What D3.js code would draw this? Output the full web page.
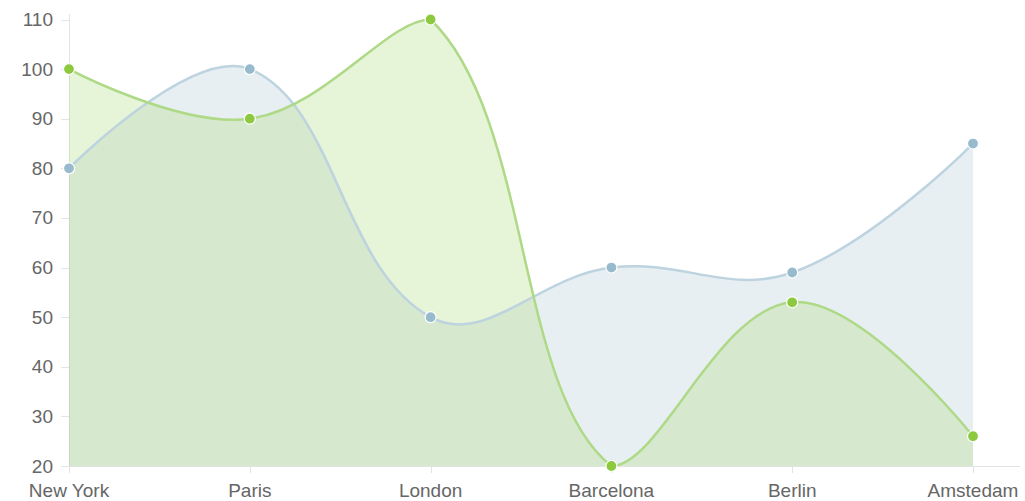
<!DOCTYPE html>
<html>
<head>
<meta charset="utf-8">
<script src="https://cdn.jsdelivr.net/npm/d3@7"></script>
<style>
  body { margin: 0; background: #fff; }
  svg { display: block; }
  text { font-family: "Liberation Sans", Arial, sans-serif; font-size: 19px; fill: #666; }
</style>
</head>
<body>
<div id="chart"></div>
<script>
'use strict';

var cities = ['New York', 'Paris', 'London', 'Barcelona', 'Berlin', 'Amstedam'];
var blueValues = [80, 100, 50, 60, 59, 85];
var greenValues = [100, 90, 110, 20, 53, 26];
var yTicks = [20, 30, 40, 50, 60, 70, 80, 90, 100, 110];

var width = 1025;
var height = 501;
var tension = 0.4;

var svg = d3.select('#chart').append('svg')
    .attr('width', width)
    .attr('height', height);

var x = d3.scalePoint()
    .domain(cities)
    .range([69, 973]);

var y = d3.scaleLinear()
    .domain([20, 110])
    .range([466, 19.5]);

// axes lines
svg.append('line')
    .attr('x1', 69.5).attr('x2', 69.5)
    .attr('y1', 14).attr('y2', 466)
    .attr('stroke', '#e3e3e3').attr('stroke-width', 1);

svg.append('line')
    .attr('x1', 61).attr('x2', 1020)
    .attr('y1', 466.5).attr('y2', 466.5)
    .attr('stroke', '#e3e3e3').attr('stroke-width', 1);

svg.selectAll('.ytick')
    .data(yTicks)
    .enter()
    .append('line')
        .attr('x1', 61).attr('x2', 69)
        .attr('y1', function(d) { return Math.round(y(d)) + 0.5; })
        .attr('y2', function(d) { return Math.round(y(d)) + 0.5; })
        .attr('stroke', '#e3e3e3');

svg.selectAll('.ylabel')
    .data(yTicks)
    .enter()
    .append('text')
        .attr('x', 53)
        .attr('y', function(d) { return y(d); })
        .attr('text-anchor', 'end')
        .attr('dominant-baseline', 'central')
        .text(function(d) { return d; });

svg.selectAll('.xtick')
    .data(cities)
    .enter()
    .append('line')
        .attr('x1', function(d) { return Math.round(x(d)) + 0.5; })
        .attr('x2', function(d) { return Math.round(x(d)) + 0.5; })
        .attr('y1', 466).attr('y2', 473)
        .attr('stroke', '#e3e3e3');

svg.selectAll('.xlabel')
    .data(cities)
    .enter()
    .append('text')
        .attr('x', function(d) { return x(d); })
        .attr('y', 497)
        .attr('text-anchor', 'middle')
        .text(function(d) { return d; });

// bezier control points, same way as the old line chart lib did it
function controlPoints(pts) {
    var top = y.range()[1];
    var bottom = y.range()[0];
    return pts.map(function(p, i) {
        var prev = pts[i - 1] || p;
        var next = pts[i + 1] || p;
        var t = (i > 0 && i < pts.length - 1) ? tension : 0;
        var d01 = Math.hypot(p.x - prev.x, p.y - prev.y);
        var d12 = Math.hypot(next.x - p.x, next.y - p.y);
        var fa = d01 + d12 ? t * d01 / (d01 + d12) : 0;
        var fb = d01 + d12 ? t * d12 / (d01 + d12) : 0;
        var inner = {x: p.x - fa * (next.x - prev.x), y: p.y - fa * (next.y - prev.y)};
        var outer = {x: p.x + fb * (next.x - prev.x), y: p.y + fb * (next.y - prev.y)};
        inner.y = Math.max(top, Math.min(bottom, inner.y));
        outer.y = Math.max(top, Math.min(bottom, outer.y));
        return {x: p.x, y: p.y, inner: inner, outer: outer};
    });
}

function curvePath(values, closed) {
    var pts = controlPoints(values.map(function(v, i) {
        return {x: x(cities[i]), y: y(v)};
    }));
    var p = d3.path();
    p.moveTo(pts[0].x, pts[0].y);
    for (var i = 1; i < pts.length; i++) {
        var a = pts[i - 1];
        var b = pts[i];
        p.bezierCurveTo(a.outer.x, a.outer.y, b.inner.x, b.inner.y, b.x, b.y);
    }
    if (closed) {
        p.lineTo(pts[pts.length - 1].x, y.range()[0]);
        p.lineTo(pts[0].x, y.range()[0]);
        p.closePath();
    }
    return p.toString();
}

var series = [
    {values: blueValues, fill: 'rgba(140,175,195,0.2)', stroke: '#bdd3df', point: '#97bbcd'},
    {values: greenValues, fill: 'rgba(172,218,122,0.3)', stroke: '#aed987', point: '#8dc93f'}
];

series.forEach(function(s) {
    svg.append('path')
        .attr('d', curvePath(s.values, true))
        .attr('fill', s.fill);
});

series.forEach(function(s) {
    svg.append('path')
        .attr('d', curvePath(s.values, false))
        .attr('fill', 'none')
        .attr('stroke', s.stroke)
        .attr('stroke-width', 2.5);
});

series.forEach(function(s) {
    svg.selectAll(null)
        .data(s.values)
        .enter()
        .append('circle')
            .attr('cx', function(d, i) { return x(cities[i]); })
            .attr('cy', function(d) { return y(d); })
            .attr('r', 5.5)
            .attr('fill', s.point)
            .attr('stroke', '#fff')
            .attr('stroke-width', 1.2);
});
</script>
</body>
</html>
